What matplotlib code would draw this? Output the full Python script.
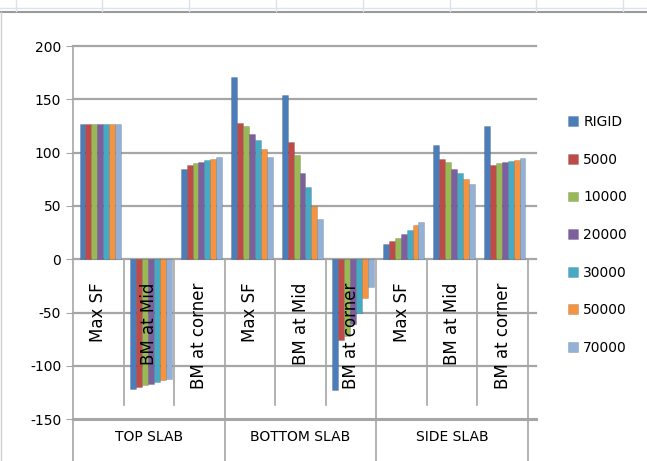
import numpy as np
import matplotlib
matplotlib.use('Agg')
import matplotlib.pyplot as plt
from matplotlib.lines import Line2D

groups = ['TOP SLAB', 'BOTTOM SLAB', 'SIDE SLAB']
categories = ['Max SF', 'BM at Mid', 'BM at corner'] * 3
series = ['RIGID', '5000', '10000', '20000', '30000', '50000', '70000']
colors = ['#4A7DBA', '#BE4B48', '#98B954', '#7D5FA0', '#46AAC4', '#F59340', '#93B1D6']

# one list per series, values for the 9 categories
rigid = [127, -122, 85, 171, 154, -123, 14, 107, 125]
s5000 = [127, -120, 88, 128, 110, -76, 17, 94, 88]
s10000 = [127, -118, 90, 125, 98, -72, 20, 91, 90]
s20000 = [127, -117, 91, 117, 81, -61, 24, 85, 91]
s30000 = [127, -115, 93, 112, 68, -50, 27, 81, 92]
s50000 = [127, -113, 94, 103, 50, -36, 32, 75, 93]
s70000 = [127, -112, 96, 96, 38, -26, 35, 71, 95]
values = [rigid, s5000, s10000, s20000, s30000, s50000, s70000]

plt.rcParams['font.family'] = ['DejaVu Sans']
plt.rcParams['axes.unicode_minus'] = False

fig = plt.figure(figsize=(6.47, 4.61), dpi=100)
ax = fig.add_axes([73 / 647, 0.0, 455 / 647, 1 - 46 / 461])

ymin = 200 - 415 / 1.066
ax.set_ylim(ymin, 200)
ax.set_xlim(0, 9)

# gridlines
for gy in [200, 150, 100, 50, 0, -50, -100]:
    ax.plot([0, 9.15], [gy, gy], color='#A6A6A6', lw=1.6, zorder=1, clip_on=False)
ax.plot([0, 9.15], [-150, -150], color='#A6A6A6', lw=2.2, zorder=1, clip_on=False)

# bars
n = len(series)
width = 0.82 / n
x = np.arange(len(categories)) + 0.5
for i, (name, vals, c) in enumerate(zip(series, values, colors)):
    pos = x - 0.41 + width * (i + 0.5) + 0.04
    ax.bar(pos, vals, width=width, color=c, edgecolor='#00000030', linewidth=0.5,
           label=name, zorder=3)

# category separators and labels
for k in range(1, 9):
    if k % 3 == 0:
        ax.plot([k, k], [0, ymin], color='#A6A6A6', lw=1.2, zorder=2, clip_on=False)
    else:
        ax.plot([k, k], [0, -137], color='#A6A6A6', lw=1.2, zorder=2)
ax.plot([9, 9], [0, ymin], color='#A6A6A6', lw=1.2, zorder=2, clip_on=False)
for xi, lab in zip(x, categories):
    ax.text(xi, -22, lab, rotation=90, ha='center', va='top', fontsize=12, zorder=4)
for g, lab in enumerate(groups):
    ax.text(g * 3 + 1.5, -167, lab, ha='center', va='center', fontsize=10)

for s in ['top', 'right', 'bottom']:
    ax.spines[s].set_visible(False)
ax.spines['left'].set_color('#A6A6A6')
ax.spines['left'].set_linewidth(1.2)
ax.set_yticks([200, 150, 100, 50, 0, -50, -100, -150])
ax.tick_params(axis='y', direction='out', length=5, color='#A6A6A6', labelsize=10)
ax.set_xticks([])

fig.legend(loc='center left', bbox_to_anchor=(568 / 647, 1 - 235 / 461), frameon=False,
           fontsize=10, labelspacing=1.7, handlelength=0.7, handleheight=0.7,
           handletextpad=0.4, borderpad=0, borderaxespad=0)

# spreadsheet remnants at the top
fig.add_artist(Line2D([0, 1], [1 - 12 / 461, 1 - 12 / 461], color='#9A9A9A', lw=1.5))
fig.add_artist(Line2D([0, 1], [1 - 8 / 461, 1 - 8 / 461], color='#DCE3EC', lw=1))
for vx in [16, 102, 189, 276, 363, 450, 536, 623]:
    fig.add_artist(Line2D([vx / 647, vx / 647], [1 - 11 / 461, 1], color='#DCE3EC', lw=1))
fig.add_artist(Line2D([1 / 647, 1 / 647], [0, 1 - 12 / 461], color='#D0D0D0', lw=1))

fig.savefig('out.png', dpi=100)
